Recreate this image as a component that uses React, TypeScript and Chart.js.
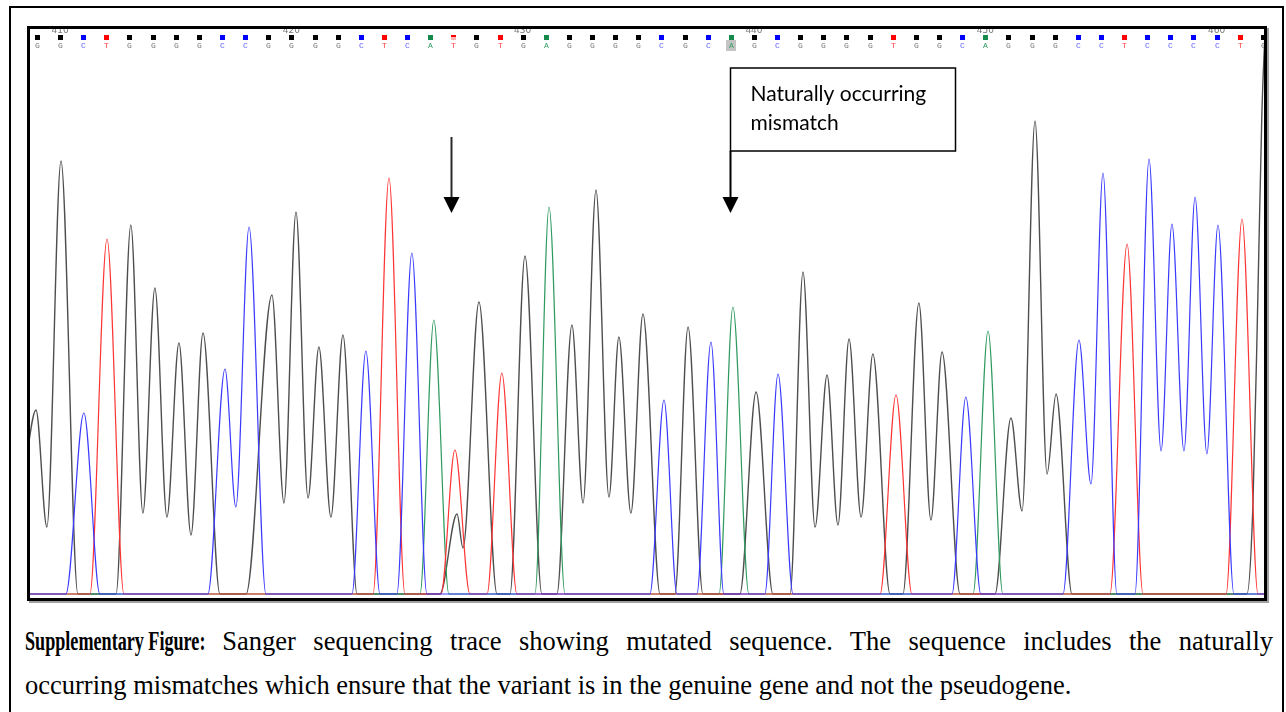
import React, { useEffect, useRef } from "react";
import { Chart, registerables } from "chart.js";

Chart.register(...registerables);

// ---------- DATA ----------
const BASE_START = 409;
const BASES = "GGCTGGGGCCGGGGCTCATGTGAGGGGCGCAGCGGGGTGGCAGGGCCTCCCCTG".split("");
const POSITION_LABELS = [410, 420, 430, 440, 450, 460];
const MIXED_POSITIONS = [427];
const HIGHLIGHT_POSITIONS = [439];
const ARROW_POSITIONS = [427, 439];
const ANNOTATION_LINES = ["Naturally occurring", "mismatch"];

const X_MIN = 408.7;
const X_MAX = 462.05;
const Y_MIN = -4;
const Y_MAX = 565;

// [base position, signal] : peaks, valleys and baseline feet
const G_TRACE: [number, number][] = [
  [408.5, 130], [408.96, 184], [409.43, 67], [410.04, 433], [410.77, 0],
  [412.42, 0], [413.06, 369], [413.58, 81], [414.10, 306], [414.62, 77],
  [415.14, 251], [415.66, 59], [416.18, 261], [416.91, 0],
  [418.04, 0], [419.16, 299], [419.68, 91], [420.20, 382], [420.72, 96],
  [421.19, 247], [421.71, 77], [422.23, 259], [422.84, 0],
  [426.42, 0], [427.16, 80], [427.42, 46], [428.11, 292], [428.89, 0],
  [429.45, 0], [430.10, 338], [430.83, 0],
  [431.48, 0], [432.13, 269], [432.61, 91], [433.17, 404], [433.73, 97],
  [434.16, 257], [434.68, 81], [435.20, 280], [435.94, 0],
  [436.58, 0], [437.15, 267], [437.79, 0],
  [439.39, 0], [440.09, 202], [440.82, 0],
  [441.56, 0], [442.12, 322], [442.64, 67], [443.16, 219], [443.63, 69],
  [444.11, 255], [444.63, 77], [445.14, 240], [445.88, 0],
  [446.44, 0], [447.13, 291], [447.65, 74], [448.13, 242], [448.91, 0],
  [450.42, 0], [451.11, 176], [451.59, 83], [452.15, 473], [452.67, 120],
  [453.06, 200], [453.75, 0],
  [461.31, 0], [461.57, 88], [461.79, 303], [461.96, 482], [462.22, 620],
];

const C_TRACE: [number, number][] = [
  [408.27, 0], [410.25, 0], [411.03, 181], [411.72, 0],
  [416.39, 0], [417.13, 225], [417.60, 87], [418.17, 367], [418.90, 0],
  [422.62, 0], [423.22, 243], [423.83, 0],
  [424.56, 0], [425.21, 341], [425.86, 0],
  [435.50, 0], [436.11, 194], [436.67, 0],
  [437.53, 0], [438.14, 252], [438.70, 0],
  [440.47, 0], [441.04, 220], [441.69, 0],
  [448.56, 0], [449.16, 197], [449.81, 0],
  [453.36, 0], [454.05, 254], [454.57, 110], [455.09, 421], [455.69, 0],
  [456.47, 0], [457.08, 435], [457.60, 143], [458.07, 370], [458.59, 143],
  [459.07, 397], [459.58, 140], [460.06, 369], [460.75, 0],
  [462.5, 0],
];

const T_TRACE: [number, number][] = [
  [408.27, 0], [411.29, 0], [412.03, 355], [412.76, 0],
  [423.53, 0], [424.22, 416], [424.91, 0],
  [426.47, 0], [427.07, 144], [427.72, 0],
  [428.46, 0], [429.10, 221], [429.75, 0],
  [445.45, 0], [446.14, 199], [446.83, 0],
  [455.39, 0], [456.13, 350], [456.82, 0],
  [460.41, 0], [461.10, 375], [461.79, 0],
  [462.5, 0],
];

const A_TRACE: [number, number][] = [
  [408.27, 0], [425.56, 0], [426.16, 274], [426.81, 0],
  [430.53, 0], [431.14, 387], [431.83, 0],
  [438.49, 0], [439.09, 287], [439.78, 0],
  [449.47, 0], [450.12, 263], [450.76, 0],
  [462.5, 0],
];

const CAPTION_BOLD = "Supplementary Figure:";
const CAPTION_LINE1 = "Sanger sequencing trace showing mutated sequence. The sequence includes the naturally";
const CAPTION_LINE2 = "occurring mismatches which ensure that the variant is in the genuine gene and not the pseudogene.";

// ---------- STYLE ----------
const SQUARE_COLORS: Record<string, string> = { G: "#000000", C: "#0000ff", T: "#ff0000", A: "#138a4c" };
const LETTER_COLORS: Record<string, string> = { G: "#7a7a7a", C: "#5a5aff", T: "#ff3a3a", A: "#2f9e62" };
const TRACE_COLORS = { C: "#3a3aff", T: "#ff3535", A: "#2e9a5e", G: "#4e4e4e" };

const seqBarPlugin = {
  id: "seqBar",
  afterDatasetsDraw(chart: any) {
    const { ctx, scales } = chart;
    const x = scales.x;
    ctx.save();
    ctx.font = '9px "DejaVu Sans"';
    ctx.fillStyle = "#777";
    ctx.textAlign = "center";
    ctx.textBaseline = "alphabetic";
    POSITION_LABELS.forEach((p) => ctx.fillText(String(p), x.getPixelForValue(p), 4));

    BASES.forEach((b, i) => {
      const pos = BASE_START + i;
      const px = Math.round(x.getPixelForValue(pos));
      if (HIGHLIGHT_POSITIONS.includes(pos)) {
        ctx.fillStyle = "#c4c4c4";
        ctx.fillRect(px - 5, 11, 10, 11);
      }
      if (MIXED_POSITIONS.includes(pos)) {
        ctx.fillStyle = SQUARE_COLORS[b];
        ctx.fillRect(px - 2, 6, 5, 2);
        ctx.fillStyle = "#ffb0b0";
        ctx.fillRect(px - 2, 8, 5, 3);
      } else {
        ctx.fillStyle = SQUARE_COLORS[b];
        ctx.fillRect(px - 2, 6, 5, 5);
      }
      ctx.fillStyle = LETTER_COLORS[b];
      ctx.font = '8px "Liberation Mono"';
      ctx.textBaseline = "middle";
      ctx.fillText(b, px + 0.5, 17);
    });
    ctx.restore();
  },
  afterDraw(chart: any) {
    const { ctx, scales } = chart;
    const x = scales.x;
    ctx.save();
    const arrow = (px: number, y0: number, color: string) => {
      ctx.strokeStyle = color;
      ctx.lineWidth = 2;
      ctx.beginPath();
      ctx.moveTo(px, y0);
      ctx.lineTo(px, 170);
      ctx.stroke();
      ctx.fillStyle = "#000";
      ctx.beginPath();
      ctx.moveTo(px - 8, 168);
      ctx.lineTo(px + 8, 168);
      ctx.lineTo(px, 184);
      ctx.closePath();
      ctx.fill();
    };
    const p1 = Math.round(x.getPixelForValue(ARROW_POSITIONS[0])) - 1.5;
    arrow(p1, 108, "#2a2a2a");
    const p2 = Math.round(x.getPixelForValue(ARROW_POSITIONS[1])) - 0.5;
    ctx.fillStyle = "#fff";
    ctx.fillRect(p2, 39, 225, 83);
    ctx.strokeStyle = "#000";
    ctx.lineWidth = 1.5;
    ctx.strokeRect(p2, 39, 225, 83);
    arrow(p2, 122, "#000");
    ctx.fillStyle = "#000";
    ctx.font = '21px Lato';
    ctx.textAlign = "left";
    ctx.textBaseline = "alphabetic";
    ctx.fillText(ANNOTATION_LINES[0], p2 + 20, 72);
    ctx.fillText(ANNOTATION_LINES[1], p2 + 20, 101);
    ctx.restore();
  },
};

const toPts = (arr: [number, number][]) => arr.map(([x, y]) => ({ x, y }));

export default function App() {
  const ref = useRef<HTMLCanvasElement | null>(null);
  useEffect(() => {
    if (!ref.current) return;
    const mk = (label: string, data: [number, number][], color: string, w: number) => ({
      label,
      data: toPts(data),
      borderColor: color,
      borderWidth: w,
      pointRadius: 0,
      fill: false,
      cubicInterpolationMode: "monotone" as const,
    });
    const chart = new Chart(ref.current, {
      type: "line",
      data: {
        datasets: [
          mk("C", C_TRACE, TRACE_COLORS.C, 1.2),
          mk("T", T_TRACE, TRACE_COLORS.T, 1.2),
          mk("A", A_TRACE, TRACE_COLORS.A, 1.2),
          mk("G", G_TRACE, TRACE_COLORS.G, 1.4),
        ],
      },
      options: {
        animation: false,
        responsive: false,
        maintainAspectRatio: false,
        devicePixelRatio: 1,
        layout: { padding: 0 },
        events: [],
        plugins: { legend: { display: false }, tooltip: { enabled: false } },
        scales: {
          x: { type: "linear", min: X_MIN, max: X_MAX, display: false },
          y: { type: "linear", min: Y_MIN, max: Y_MAX, display: false },
        },
      },
      plugins: [seqBarPlugin],
    });
    return () => chart.destroy();
  }, []);

  const captionFont: React.CSSProperties = {
    fontFamily: '"Liberation Serif", "Times New Roman", serif',
    fontSize: 26.5,
    lineHeight: "44px",
    color: "#000",
    position: "absolute",
    left: 25,
    width: 1248,
  };

  return (
    <div style={{ position: "absolute", left: 0, top: 0, width: 1286, height: 712, overflow: "hidden", background: "#fff" }}>
      <div
        style={{
          position: "absolute", left: 9, top: 6, width: 1275, height: 730,
          boxSizing: "border-box", border: "2px solid #000",
        }}
      />
      <div
        style={{
          position: "absolute", left: 27, top: 26, width: 1240, height: 575,
          boxSizing: "border-box", border: "3px solid #000", boxShadow: "2px 2px 0 #a0a0a0",
          background: "#fff",
        }}
      >
        <canvas ref={ref} width={1234} height={569} style={{ display: "block", width: 1234, height: 569 }} />
      </div>
      <div style={{ ...captionFont, top: 619, textAlign: "justify", textAlignLast: "justify" as any, whiteSpace: "nowrap" }}>
        <span style={{ display: "inline-block", fontWeight: "bold", transform: "scaleX(0.684)", transformOrigin: "left center", marginRight: -84 }}>
          {CAPTION_BOLD}
        </span>
        <span style={{ whiteSpace: "normal" }}>{" " + CAPTION_LINE1}</span>
      </div>
      <div style={{ ...captionFont, top: 663, textAlign: "left" }}>{CAPTION_LINE2}</div>
    </div>
  );
}
